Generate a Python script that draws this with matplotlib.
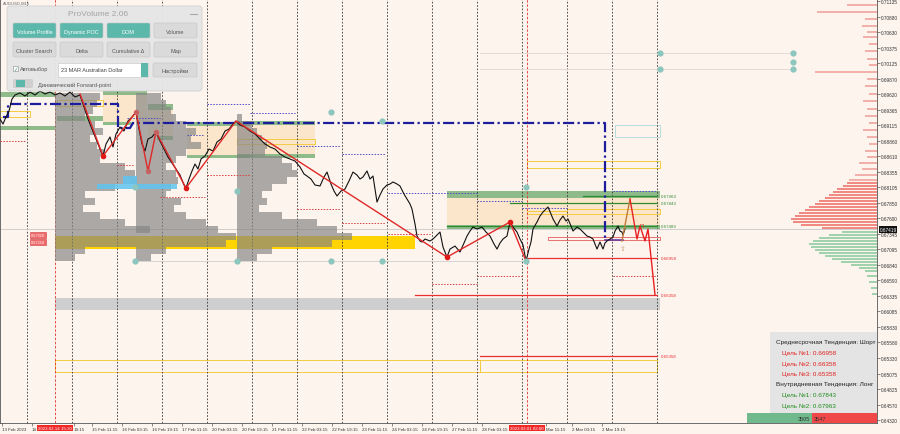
import matplotlib
matplotlib.use('Agg')
import matplotlib.pyplot as plt
from matplotlib.patches import Rectangle, FancyBboxPatch

plt.rcParams['font.family'] = ['Liberation Sans', 'DejaVu Sans']

# window: x is the bar position, y is price
x_max = 877
p_low, p_high = 0.64270, 0.71168
bg = '#fdf4ee'

# price path (AUDUSD M15)
bar_x = [0, 3, 6, 9, 12, 15, 20, 25, 30, 35, 40, 45, 50, 55, 60, 65, 70, 75, 80, 84,
         88, 92, 96, 100, 103, 106, 110, 113, 116, 120, 124, 128, 132, 136, 139, 142, 145, 148, 152, 156,
         160, 164, 168, 172, 176, 180, 184, 186, 189, 192, 195, 198, 201, 205, 209, 213, 217, 221, 225, 229,
         233, 236, 240, 245, 250, 255, 260, 265, 270, 275, 280, 285, 290, 295, 300, 304, 307, 311, 315, 320,
         324, 327, 331, 334, 337, 341, 345, 349, 353, 357, 360, 363, 367, 370, 373, 375, 377, 380, 383, 387,
         390, 393, 397, 400, 404, 407, 410, 412, 415, 417, 420, 422, 425, 430, 433, 437, 440, 443, 447, 450,
         455, 460, 464, 467, 470, 473, 477, 482, 486, 490, 494, 497, 500, 503, 507, 510, 513, 517, 520, 523,
         526, 529, 531, 533, 537, 540, 543, 546, 548, 551, 553, 557, 560, 563, 566, 568, 571, 573, 577, 580,
         584, 587, 590, 593, 595, 597, 600, 603, 605, 607, 610, 613, 615, 618, 620, 622, 623, 625]
close = [0.69216, 0.69134, 0.69248, 0.69346, 0.69541, 0.69606, 0.69639, 0.69590, 0.69655, 0.69606,
         0.69671, 0.69622, 0.69655, 0.69606, 0.69639, 0.69590, 0.69655, 0.69574, 0.69606, 0.69411,
         0.69216, 0.69053, 0.68890, 0.68727, 0.68614, 0.68809, 0.68923, 0.68760, 0.68972, 0.69085,
         0.69020, 0.69183, 0.69248, 0.69329, 0.69053, 0.68809, 0.68695, 0.68890, 0.68923, 0.69004,
         0.68858, 0.68727, 0.68597, 0.68500, 0.68402, 0.68304, 0.68142, 0.68093, 0.68239, 0.68370,
         0.68483, 0.68402, 0.68565, 0.68614, 0.68727, 0.68695, 0.68841, 0.68890, 0.69020, 0.69053,
         0.69134, 0.69183, 0.69118, 0.69085, 0.69020, 0.68972, 0.68890, 0.68809, 0.68760, 0.68727,
         0.68646, 0.68597, 0.68565, 0.68532, 0.68435, 0.68321, 0.68288, 0.68239, 0.68142, 0.68126,
         0.68272, 0.68353, 0.68158, 0.68044, 0.67963, 0.68044, 0.68077, 0.68207, 0.68353, 0.68304,
         0.68239, 0.68272, 0.68370, 0.68239, 0.68288, 0.68077, 0.67865, 0.67979, 0.68077, 0.68142,
         0.68158, 0.68191, 0.68158, 0.68126, 0.67995, 0.67914, 0.67833, 0.67751, 0.67507, 0.67312,
         0.67231, 0.67214, 0.67263, 0.67231, 0.67263, 0.67328, 0.67377, 0.67133, 0.66970, 0.67100,
         0.67149, 0.67052, 0.67198, 0.67312, 0.67393, 0.67458, 0.67426, 0.67458, 0.67377, 0.67312,
         0.67182, 0.67100, 0.67198, 0.67263, 0.67312, 0.67540, 0.67458, 0.67377, 0.67263, 0.67166,
         0.66905, 0.67100, 0.67214, 0.67426, 0.67540, 0.67637, 0.67702, 0.67751, 0.67784, 0.67670,
         0.67589, 0.67475, 0.67572, 0.67637, 0.67556, 0.67589, 0.67475, 0.67393, 0.67458, 0.67426,
         0.67361, 0.67312, 0.67295, 0.67263, 0.67182, 0.67100, 0.67214, 0.67100, 0.67198, 0.67231,
         0.67263, 0.67295, 0.67393, 0.67475, 0.67393, 0.67377, 0.67328, 0.67426]
last_price = 0.67419

# zigzag and forecast
zz_x = [80, 103, 136, 148, 156, 186, 236, 447, 510, 526]
zz_p = [0.69622, 0.68614, 0.69329, 0.68370, 0.69004, 0.68093, 0.69183, 0.66970, 0.67540, 0.66905]
fc_x = [622, 630, 637, 640, 645, 648, 655]
fc_p = [0.67231, 0.67914, 0.67263, 0.67475, 0.67231, 0.67426, 0.66358]

# dynamic POC step line
nv_x = [3, 8, 8, 118, 118, 130, 133, 605, 605, 623]
nv_p = [0.69248, 0.69248, 0.69460, 0.69460, 0.69069, 0.69069, 0.69151, 0.69151, 0.67247, 0.67247]

# volume profiles (width per level, top level first)
vp_top, vp_step = 0.69639, 0.00114
vp_x0 = [55, 136, 237]
vp_w = [
    [45, 42, 38, 30, 40, 48, 35, 42, 50, 45, 70, 80, 82, 60, 30, 40, 28, 45, 70, 95, 81, 81, 30, 20],
    [25, 30, 35, 40, 50, 60, 55, 65, 50, 40, 30, 40, 42, 35, 30, 45, 38, 50, 70, 82, 100, 90, 30, 15],
    [0, 0, 0, 5, 15, 20, 25, 30, 28, 45, 55, 60, 50, 35, 25, 30, 22, 45, 80, 100, 115, 95, 35, 20],
]

# target levels
lv_price = [0.67963, 0.67843, 0.67483, 0.66958, 0.66358, 0.65358]
lv_x0 = [583, 510, 447, 527, 415, 480]
lv_col = ['#2e8b2e', '#2e8b2e', '#2e8b2e', '#e83030', '#e83030', '#e83030']

# zones: x0, x1, top, bottom
green_zones = [(447, 660, 0.68044, 0.67930), (447, 660, 0.67491, 0.67426),
               (0, 55, 0.69655, 0.69574), (0, 55, 0.69102, 0.69037), (103, 147, 0.69671, 0.69606),
               (103, 133, 0.69167, 0.69118), (148, 173, 0.69460, 0.69362), (157, 173, 0.68939, 0.68874),
               (57, 103, 0.69264, 0.69183), (187, 250, 0.69167, 0.69102), (187, 250, 0.68630, 0.68581),
               (237, 315, 0.69183, 0.69118), (237, 315, 0.68646, 0.68581)]
peach_zones = [(447, 660, 0.67930, 0.67491), (103, 147, 0.69606, 0.69167), (148, 173, 0.69362, 0.68939),
               (187, 250, 0.69102, 0.68630), (237, 315, 0.69118, 0.68646)]
yellow_boxes = [(0, 30, 0.69346, 0.69248), (57, 103, 0.69525, 0.69427), (237, 315, 0.68890, 0.68809),
                (527, 660, 0.68532, 0.68418), (527, 567, 0.67719, 0.67670), (567, 660, 0.67751, 0.67670),
                (55, 480, 0.65294, 0.65099), (480, 657, 0.65294, 0.65099)]
red_boxes = [(548, 660, 0.67295, 0.67247)]
blue_boxes = [(615, 660, 0.69118, 0.68923)]
poc_band = (55, 415, 0.67312, 0.67100)
gray_band = (55, 660, 0.66303, 0.66108)
sky_zones = [(123, 137, 0.68288, 0.68158), (97, 177, 0.68158, 0.68077)]

# daily POC / VAL dotted segments
blue_dots = [(127, 160, 0.69232), (187, 203, 0.68955), (207, 250, 0.69460), (250, 295, 0.69313),
             (297, 340, 0.68776), (342, 385, 0.68646), (388, 430, 0.68012), (432, 477, 0.68012),
             (477, 522, 0.67881), (522, 567, 0.67767), (613, 657, 0.68044)]
red_dots = [(0, 25, 0.68858), (117, 133, 0.68467), (160, 205, 0.67947), (207, 250, 0.68304),
            (297, 340, 0.67751), (342, 385, 0.67524), (388, 430, 0.67345), (432, 477, 0.66531),
            (477, 522, 0.66661), (613, 657, 0.66661)]

teal_x = [135, 135, 237, 237, 331, 331, 382, 382, 526, 526, 660, 660, 793, 793, 793]
teal_p = [0.68109, 0.66905, 0.68044, 0.66905, 0.69329, 0.66905, 0.69183, 0.66905, 0.68109, 0.66905,
          0.70289, 0.70029, 0.70289, 0.70143, 0.70029]

# right side volume-at-price
rv_p = [0.71070, 0.70956, 0.70843, 0.70729, 0.70631, 0.70550, 0.70436, 0.70322, 0.70192, 0.70094,
        0.69980, 0.69866, 0.69753, 0.69622, 0.69508, 0.69378, 0.69264, 0.69151, 0.69037, 0.68923,
        0.68809, 0.68695, 0.68597, 0.68500, 0.68402, 0.68304, 0.68223]
rv_w = [30, 60, 12, 15, 10, 14, 8, 12, 10, 8, 62, 10, 12, 8, 14, 10, 12, 8, 14, 10, 8, 12, 10, 18, 15, 22, 28]
rs_p = [0.68174, 0.68126, 0.68077, 0.68028, 0.67979, 0.67930, 0.67881, 0.67833, 0.67784, 0.67735,
        0.67686, 0.67637, 0.67589, 0.67540, 0.67491, 0.67442]
rs_w = [30, 34, 40, 44, 48, 52, 58, 62, 68, 72, 78, 82, 86, 84, 76, 55]
rg_p = [0.67377, 0.67328, 0.67279, 0.67231, 0.67182, 0.67133, 0.67084, 0.67035, 0.66987, 0.66938,
        0.66889, 0.66840, 0.66791, 0.66743, 0.66661, 0.66564, 0.66466, 0.66368]
rg_w = [35, 48, 58, 64, 68, 66, 62, 58, 52, 45, 36, 26, 18, 12, 10, 8, 6, 5]

y_ticks = [0.71135, 0.70880, 0.70630, 0.70375, 0.70125, 0.69870, 0.69620, 0.69365, 0.69115, 0.68860,
           0.68610, 0.68355, 0.68105, 0.67850, 0.67600, 0.67345, 0.67095, 0.66840, 0.66590, 0.66335,
           0.66085, 0.65830, 0.65580, 0.65330, 0.65075, 0.64825, 0.64570, 0.64320]
# time labels, the parts left visible beside the red session tags
x_tick_pos = [2, 32, 74, 92, 122, 152, 182, 212, 242, 272, 302, 332, 362, 392, 422, 452, 482, 546, 572, 602]
x_labels = ['13 Feb 2023', '14', '19:15', '15 Feb 11:15', '16 Feb 03:15', '16 Feb 19:15',
            '17 Feb 11:15', '20 Feb 03:15', '20 Feb 19:15', '21 Feb 11:15', '22 Feb 03:15', '22 Feb 19:15',
            '23 Feb 11:15', '24 Feb 03:15', '24 Feb 19:15', '27 Feb 11:15', '28 Feb 03:15',
            'Mar 11:15', '2 Mar 03:15', '2 Mar 19:15']
day_lines = [27 + 45 * k for k in range(15)]
session_marks = [(55, '2023.02.14 15:30'), (527, '2023.03.01 02:00')]

info_lines = [('Среднесрочная Тенденция: Шорт', '#222222', 0),
              ('Цель №1: 0.66958', '#e02020', 6), ('Цель №2: 0.66358', '#e02020', 6),
              ('Цель №3: 0.65358', '#e02020', 6),
              ('Внутридневная Тенденция: Лонг', '#222222', 0),
              ('Цель №1: 0.67843', '#1e8c1e', 6), ('Цель №2: 0.67963', '#1e8c1e', 6)]
delta_buy, delta_sell = 3505, 3547

fig = plt.figure(figsize=(9, 4.35), dpi=100, facecolor=bg)
ax = fig.add_axes([0, 11 / 435, 877 / 900, 424 / 435])
ax.set_facecolor(bg)
ax.set_xlim(0, x_max)
ax.set_ylim(p_low, p_high)


def box(x0, x1, top, bot, **kw):
    ax.add_patch(Rectangle((x0, bot), x1 - x0, top - bot, **kw))


# zones
for z in peach_zones:
    box(*z, fc='#fbe3c4', ec='none', alpha=0.8, zorder=1)
for z in green_zones:
    box(*z, fc='#6aa86a', ec='none', alpha=0.75, zorder=2)
box(*gray_band, fc='#cfcfcf', ec='none', zorder=1)
box(*poc_band, fc='#ffd400', ec='none', zorder=1)
for z in yellow_boxes:
    box(*z, fc='none', ec='#f2cc40', lw=0.7, zorder=2)
for z in red_boxes:
    box(*z, fc='none', ec='#e87070', lw=0.7, zorder=2)
for z in blue_boxes:
    box(*z, fc='none', ec='#b8dce0', lw=0.7, zorder=2)

# volume profiles
for x0, widths in zip(vp_x0, vp_w):
    lev = [vp_top - vp_step * (i + 0.5) for i in range(len(widths))]
    ax.barh(lev, widths, height=vp_step, left=x0, color='#858585', alpha=0.68, lw=0, zorder=3)
for z in sky_zones:
    box(*z, fc='#5ec4f0', ec='none', alpha=0.85, zorder=3)

# grid
for x in day_lines:
    ax.axvline(x, color='#333333', lw=0.6, ls=(0, (2, 2)), zorder=2)
for x, _ in session_marks:
    ax.axvline(x, color='#e03030', lw=0.6, ls=(0, (3, 2)), zorder=2)
ax.axhline(last_price, color='#c8c8c8', lw=0.6, zorder=2)
ax.plot([135, 526], [0.66905, 0.66905], color='#d0d0d0', lw=0.6, zorder=2)
ax.plot([480, 793], [0.70289, 0.70289], color='#e2d6d0', lw=0.6, zorder=2)
ax.plot([480, 793], [0.70029, 0.70029], color='#e2d6d0', lw=0.6, zorder=2)

for x0, x1, p in blue_dots:
    ax.plot([x0, x1], [p, p], color='#4b4bc8', lw=0.7, ls=(0, (1.5, 1.5)), zorder=4)
for x0, x1, p in red_dots:
    ax.plot([x0, x1], [p, p], color='#d84040', lw=0.7, ls=(0, (1.5, 1.5)), zorder=4)

# target levels
for p, x0, c in zip(lv_price, lv_x0, lv_col):
    ax.plot([x0, 657], [p, p], color=c, lw=0.9, zorder=4)
    ax.text(661, p, f'{p:.5f}', color=c, fontsize=3.2, va='center', ha='left', zorder=6)

# right volume-at-price
ax.barh(rv_p, rv_w, height=0.00022, left=[x_max - w for w in rv_w], color='#f2b0aa', lw=0, zorder=3)
ax.barh(rs_p, rs_w, height=0.00042, left=[x_max - w for w in rs_w], color='#f08a82', lw=0, zorder=3)
ax.barh(rg_p, rg_w, height=0.00042, left=[x_max - w for w in rg_w], color='#9fd2ad', lw=0, zorder=3)

# navy dynamic POC
ax.plot(nv_x[:-1], nv_p[:-1], color='#1c1c9c', lw=1.6, ls=(0, (5, 1.5, 1, 1.5)), zorder=5)
ax.plot(nv_x[-2:], nv_p[-2:], color='#6a3aa0', lw=1.2, zorder=5)

# price
ax.plot(bar_x, close, color='#111111', lw=0.8, zorder=6)

# zigzag + forecast
ax.plot(zz_x, zz_p, color='#e02828', lw=1.0, zorder=7)
ax.scatter([103, 186, 447, 510], [0.68614, 0.68093, 0.66970, 0.67540], s=9, color='#e01818', zorder=8)
ax.scatter([136, 148, 156], [0.69329, 0.68370, 0.69004], s=8, color='#c86060', zorder=8)
ax.plot(fc_x[:2], fc_p[:2], color='#c07a3a', lw=1.0, zorder=7)
ax.plot(fc_x[1:], fc_p[1:], color='#e82020', lw=1.0, zorder=7)
ax.text(641, 0.67440, 'П', color='#e02020', fontsize=4, ha='center', va='bottom', zorder=8)
ax.text(623, 0.67120, '⇧', color='#c8a080', fontsize=5, ha='center', va='center', zorder=8,
        family=['DejaVu Sans'])
ax.scatter(teal_x, teal_p, s=12, color='#8cc6bf', zorder=8)

# left price tags
for p, t in [(0.67328, '0.67320'), (0.67214, '0.67210')]:
    ax.text(38, p, t, fontsize=2.8, color='white', ha='center', va='center', zorder=9,
            bbox=dict(boxstyle='square,pad=0.15', fc='#ee6a6a', ec='#d04040', lw=0.4))

# axes
ax.yaxis.tick_right()
ax.set_yticks(y_ticks)
ax.set_yticklabels([f'{v:.5f}' for v in y_ticks])
ax.set_xticks(x_tick_pos)
ax.set_xticklabels(x_labels, ha='left')
ax.tick_params(axis='y', labelsize=3.4, length=2, width=0.4, pad=1, colors='#333333')
ax.tick_params(axis='x', labelsize=3.2, length=2, width=0.4, pad=1, colors='#333333')
for s in ax.spines.values():
    s.set_color('#555555')
    s.set_linewidth(0.6)
ax.text(1.003, last_price, f'{last_price:.5f}', transform=ax.get_yaxis_transform(), fontsize=3.4,
        color='white', va='center', ha='left', zorder=10,
        bbox=dict(boxstyle='square,pad=0.15', fc='#111111', ec='none'))
for x, t in session_marks:
    ax.text(x, -0.012, t, transform=ax.get_xaxis_transform(), fontsize=3.2, color='white',
            ha='center', va='center', zorder=10, clip_on=False,
            bbox=dict(boxstyle='square,pad=0.2', fc='#f02828', ec='none'))

# ui layer in screen pixels
ui = fig.add_axes([0, 0, 1, 1], zorder=5)
ui.set_xlim(0, 900)
ui.set_ylim(435, 0)
ui.axis('off')
ui.patch.set_alpha(0)

ui.text(3, 4, 'AUDUSD,M15', fontsize=3, color='#666666', va='center')
ui.add_patch(FancyBboxPatch((7, 7), 195, 85, boxstyle='round,pad=0,rounding_size=3',
                            fc='#e6e6e6', ec='#cfcfcf', lw=0.6, alpha=0.96))
ui.text(98, 14, 'ProVolume 2.06', ha='center', va='center', fontsize=6, color='#a3a3a3')
ui.plot([190, 197], [15, 15], color='#aaaaaa', lw=0.8)
rows = [(['Volume Profile', 'Dynamic POC', 'DOM', 'Volume'], [True, True, True, False], 24),
        (['Cluster Search', 'Delta', 'Cumulative Δ', 'Map'], [False] * 4, 43)]
for labels, active, y in rows:
    for i, (lab, on) in enumerate(zip(labels, active)):
        x = 13 + 47 * i
        ui.add_patch(FancyBboxPatch((x, y), 43, 15, boxstyle='round,pad=0,rounding_size=1.5',
                                    fc='#5db8ac' if on else '#dadada', ec='#c4c4c4', lw=0.4))
        ui.text(x + 21.5, y + 8.5, lab, ha='center', va='center', fontsize=4,
                color='white' if on else '#555555')
        ui.add_patch(Rectangle((x + 3, y + 12.5), 37, 0.8, fc='#9a9a9a' if not on else '#3d8c82',
                               ec='none'))
ui.add_patch(Rectangle((13, 67), 5, 5, fc='white', ec='#888888', lw=0.4))
ui.text(15.5, 69.5, '✓', fontsize=4, color='#3a9a8e', ha='center', va='center', family=['DejaVu Sans'])
ui.text(20, 70, 'Автовыбор', fontsize=4, color='#555555', va='center')
ui.add_patch(Rectangle((58, 64), 90, 14, fc='white', ec='#c4c4c4', lw=0.4))
ui.add_patch(Rectangle((141, 64), 7, 14, fc='#5db8ac', ec='none'))
ui.text(61, 71, '23 MAR Australian Dollar', fontsize=4, color='#444444', va='center')
ui.add_patch(FancyBboxPatch((153, 64), 44, 14, boxstyle='round,pad=0,rounding_size=1.5',
                            fc='#dadada', ec='#c4c4c4', lw=0.4))
ui.text(175, 71, 'Настройки', fontsize=4, color='#555555', ha='center', va='center')
ui.add_patch(FancyBboxPatch((13, 80), 20, 9, boxstyle='round,pad=0,rounding_size=1.5',
                            fc='#cfcfcf', ec='none'))
ui.add_patch(Rectangle((16, 81), 9, 7, fc='#5db8ac', ec='none'))
ui.text(38, 85, 'Динамический Forward-point', fontsize=4, color='#555555', va='center')

# trend info box
ui.add_patch(Rectangle((770, 333), 107, 81, fc='#e4e4e4', ec='none', alpha=0.95))
for i, (t, c, dx) in enumerate(info_lines):
    ui.text(776 + dx, 343 + 10.5 * i, t, fontsize=4.6, color=c, va='center')

# delta bar
ui.add_patch(Rectangle((747, 414), 65, 10, fc='#6fb98c', ec='none'))
ui.add_patch(Rectangle((812, 414), 65, 10, fc='#f04848', ec='none'))
ui.text(810, 419.5, str(delta_buy), fontsize=4, color='#333333', ha='right', va='center')
ui.text(814, 419.5, str(delta_sell), fontsize=4, color='#333333', ha='left', va='center')

fig.savefig('out.png', dpi=100, facecolor=bg)
